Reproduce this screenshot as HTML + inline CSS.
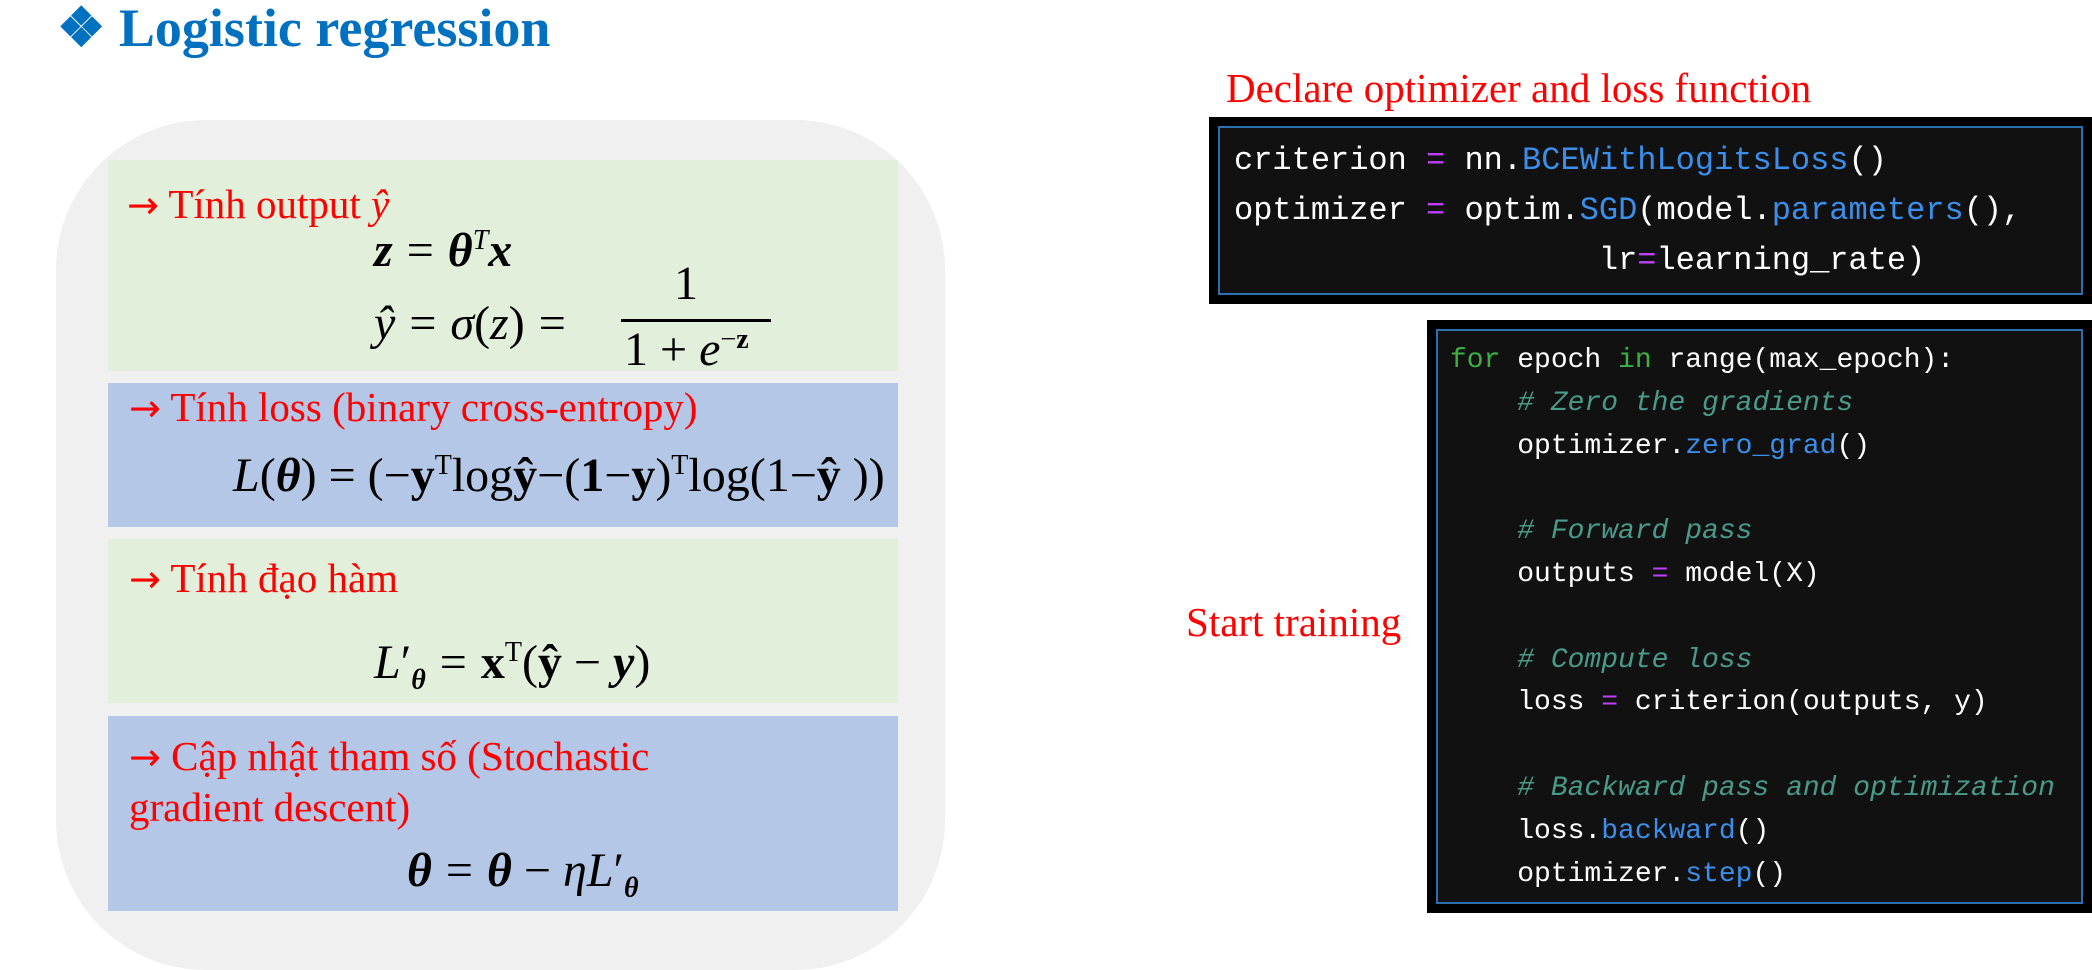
<!DOCTYPE html>
<html><head><meta charset="utf-8"><style>
body{margin:0;width:2092px;height:962px;background:#fff;position:relative;overflow:hidden;font-family:"Liberation Serif",serif}
.a{position:absolute;white-space:nowrap}
.r{color:#f00;font-size:41px;line-height:41px}
.ar{font-family:"DejaVu Sans",sans-serif;font-size:38px}
.m{font-size:48px;line-height:48px;color:#000}
.b{font-weight:bold}
.code{position:absolute;background:#111;border:9px solid #000;box-shadow:inset 0 0 0 2px #2a6fb0;box-sizing:border-box}
.c{position:absolute;font-family:"Liberation Mono",monospace;color:#fff;white-space:pre}
.c1{font-size:32px;line-height:50px}
.c2{font-size:28px;line-height:42.8px}
.cm{color:#4a9a8a;font-style:italic}
.fn{color:#3b8eea}
.op{color:#c040ff}
.kw{color:#3cb043}
sup,sub{font-size:28px;line-height:0}
.e{display:inline-block;width:14px}
</style></head><body>
<div class="a b" style="left:57px;top:-4px;font-size:54px;line-height:64px;color:#0070c0">❖ Logistic regression</div>
<div class="a" style="left:56px;top:120px;width:889px;height:850px;background:#f0f0f0;border-radius:150px"></div>
<div class="a" style="left:108px;top:160px;width:790px;height:211px;background:#e2efda"></div>
<div class="a" style="left:108px;top:383px;width:790px;height:144px;background:#b4c7e7"></div>
<div class="a" style="left:108px;top:539px;width:790px;height:164px;background:#e2efda"></div>
<div class="a" style="left:108px;top:716px;width:790px;height:195px;background:#b4c7e7"></div>

<div class="a r" style="left:127px;top:184px"><span class="ar">→</span> Tính output <i>ŷ</i></div>
<div class="a m" style="left:374px;top:227px"><b><i>z</i></b><span class="e"></span>=<span class="e"></span><b><i>θ</i></b><sup><i>T</i></sup><b><i>x</i></b></div>
<div class="a m" style="left:374px;top:300px"><i>ŷ</i><span class="e"></span>=<span class="e"></span><i>σ</i>(<i>z</i>)<span class="e"></span>=</div>
<div class="a m" style="left:674px;top:260px">1</div>
<div class="a" style="left:621px;top:319px;width:150px;height:3px;background:#000"></div>
<div class="a m" style="left:624px;top:326px">1 + <i>e</i><sup>−<b>z</b></sup></div>

<div class="a r" style="left:129px;top:387px"><span class="ar">→</span> Tính loss (binary cross-entropy)</div>
<div class="a m" style="left:233px;top:452px"><i>L</i>(<b><i>θ</i></b>) = (−<b>y</b><sup>T</sup>log<b>ŷ</b>−(<b>1</b>−<b>y</b>)<sup>T</sup>log(1−<b>ŷ</b> ))</div>

<div class="a r" style="left:129px;top:558px"><span class="ar">→</span> Tính đạo hàm</div>
<div class="a m" style="left:374px;top:639px"><i>L</i>′<sub><b><i>θ</i></b></sub><span class="e"></span>=<span class="e"></span><b>x</b><sup>T</sup>(<b>ŷ</b> − <b><i>y</i></b>)</div>

<div class="a r" style="left:129px;top:736px"><span class="ar">→</span> Cập nhật tham số (Stochastic</div>
<div class="a r" style="left:129px;top:787px">gradient descent)</div>
<div class="a m" style="left:407px;top:847px"><b><i>θ</i></b><span class="e"></span>=<span class="e"></span><b><i>θ</i></b> − <i>η</i><i>L</i>′<sub><b><i>θ</i></b></sub></div>

<div class="a" style="left:1226px;top:65px;font-size:41px;line-height:46px;color:#f00">Declare optimizer and loss function</div>
<div class="a" style="left:1186px;top:599px;font-size:41px;line-height:46px;color:#f00">Start training</div>

<div class="code" style="left:1209px;top:117px;width:883px;height:187px"></div>
<div class="c c1" style="left:1234px;top:136px">criterion <span class="op">=</span> nn.<span class="fn">BCEWithLogitsLoss</span>()
optimizer <span class="op">=</span> optim.<span class="fn">SGD</span>(model.<span class="fn">parameters</span>(),
                   lr<span class="op">=</span>learning_rate)</div>

<div class="code" style="left:1427px;top:320px;width:665px;height:593px"></div>
<div class="c c2" style="left:1450px;top:340px"><span class="kw">for</span> epoch <span class="kw">in</span> range(max_epoch):
    <span class="cm"># Zero the gradients</span>
    optimizer.<span class="fn">zero_grad</span>()

    <span class="cm"># Forward pass</span>
    outputs <span class="op">=</span> model(X)

    <span class="cm"># Compute loss</span>
    loss <span class="op">=</span> criterion(outputs, y)

    <span class="cm"># Backward pass and optimization</span>
    loss.<span class="fn">backward</span>()
    optimizer.<span class="fn">step</span>()</div>
</body></html>
